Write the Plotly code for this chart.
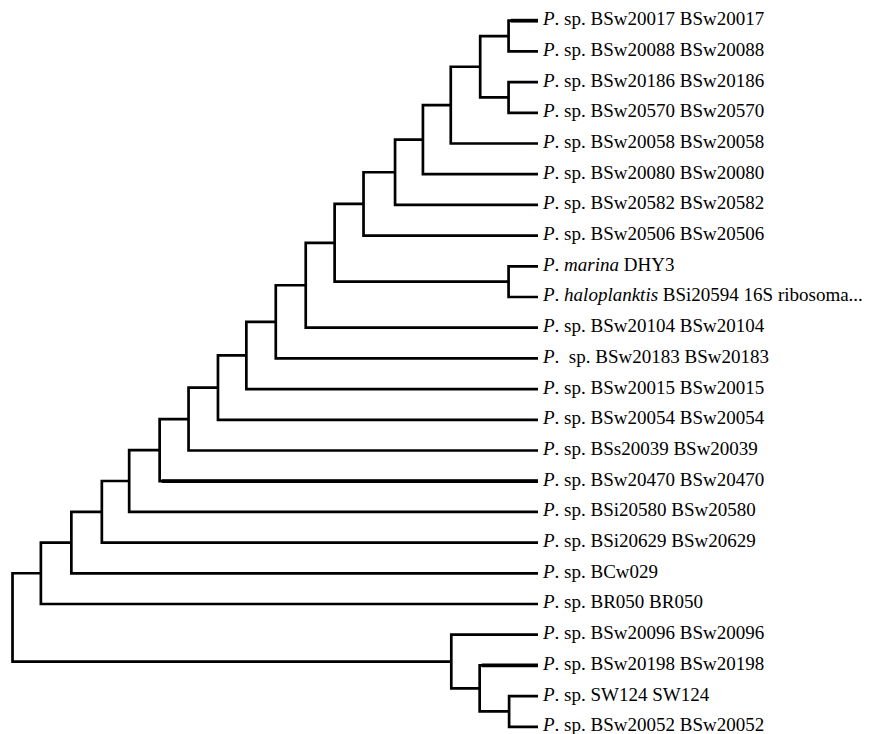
import plotly.graph_objects as go

# Leaf labels, top to bottom
leaf_labels = [
    "<i>P</i>. sp. BSw20017 BSw20017",
    "<i>P</i>. sp. BSw20088 BSw20088",
    "<i>P</i>. sp. BSw20186 BSw20186",
    "<i>P</i>. sp. BSw20570 BSw20570",
    "<i>P</i>. sp. BSw20058 BSw20058",
    "<i>P</i>. sp. BSw20080 BSw20080",
    "<i>P</i>. sp. BSw20582 BSw20582",
    "<i>P</i>. sp. BSw20506 BSw20506",
    "<i>P</i>. <i>marina</i> DHY3",
    "<i>P</i>. <i>haloplanktis</i> BSi20594 16S ribosoma...",
    "<i>P</i>. sp. BSw20104 BSw20104",
    "<i>P</i>.\u00a0 sp. BSw20183 BSw20183",
    "<i>P</i>. sp. BSw20015 BSw20015",
    "<i>P</i>. sp. BSw20054 BSw20054",
    "<i>P</i>. sp. BSs20039 BSw20039",
    "<i>P</i>. sp. BSw20470 BSw20470",
    "<i>P</i>. sp. BSi20580 BSw20580",
    "<i>P</i>. sp. BSi20629 BSw20629",
    "<i>P</i>. sp. BCw029",
    "<i>P</i>. sp. BR050 BR050",
    "<i>P</i>. sp. BSw20096 BSw20096",
    "<i>P</i>. sp. BSw20198 BSw20198",
    "<i>P</i>. sp. SW124 SW124",
    "<i>P</i>. sp. BSw20052 BSw20052",
]
leaf_depth = 1.0

# Internal nodes: name -> (depth from root, [children]); ints are leaf indices
node_names = ["root", "a", "b", "c", "d", "e", "f", "g", "h", "i", "j", "k",
              "l", "m", "n", "o", "p", "p1", "p2", "km", "q", "r", "s"]
node_depths = [0.000, 0.054, 0.112, 0.170, 0.222, 0.280, 0.335, 0.391, 0.445,
               0.501, 0.558, 0.613, 0.668, 0.728, 0.781, 0.834, 0.890, 0.944,
               0.944, 0.944, 0.835, 0.889, 0.945]
node_children = [
    ["a", "q"], ["b", 19], ["c", 18], ["d", 17], ["e", 16], ["f", 15],
    ["g", 14], ["h", 13], ["i", 12], ["j", 11], ["k", 10], ["l", "km"],
    ["m", 7], ["n", 6], ["o", 5], ["p", 4], ["p1", "p2"], [0, 1], [2, 3],
    [8, 9], [20, "r"], [21, "s"], [22, 23],
]
thick_leaves = [0, 15, 21]

depth = dict(zip(node_names, node_depths))
children = dict(zip(node_names, node_children))

def pos(n):
    if isinstance(n, int):
        return leaf_depth, float(n)
    ys = [pos(c)[1] for c in children[n]]
    return depth[n], sum(ys) / len(ys)

xs, ys = [], []
for n in node_names:
    nx, _ = pos(n)
    c1, c2 = children[n]
    x1, y1 = pos(c1)
    x2, y2 = pos(c2)
    xs += [x1, nx, nx, x2, None]
    ys += [y1, y1, y2, y2, None]

# thick terminal branches
txs, tys = [], []
for n in node_names:
    for c in children[n]:
        if isinstance(c, int) and c in thick_leaves:
            txs += [depth[n] + 0.004, leaf_depth, None]
            tys += [float(c), float(c), None]

fig = go.Figure()
fig.add_trace(go.Scatter(x=xs, y=ys, mode="lines",
                         line=dict(color="black", width=2.7),
                         hoverinfo="skip", showlegend=False))
fig.add_trace(go.Scatter(x=txs, y=tys, mode="lines",
                         line=dict(color="black", width=3.8),
                         hoverinfo="skip", showlegend=False))

for i, lab in enumerate(leaf_labels):
    fig.add_annotation(x=leaf_depth, y=i, text=lab, showarrow=False,
                       xanchor="left", yanchor="middle", xshift=2, yshift=2,
                       font=dict(family="Liberation Serif", size=19, color="black"))

fig.update_layout(
    width=873, height=734,
    margin=dict(l=0, r=0, t=0, b=0),
    paper_bgcolor="white", plot_bgcolor="white",
    xaxis=dict(visible=False, range=[-0.0238, 1.6375], fixedrange=True),
    yaxis=dict(visible=False, range=[23.235, -0.674], fixedrange=True),
    hovermode=False,
)
fig.write_html("out.html", config={"displayModeBar": False},
               post_script="document.body.style.margin='0';document.body.style.overflow='hidden';")
